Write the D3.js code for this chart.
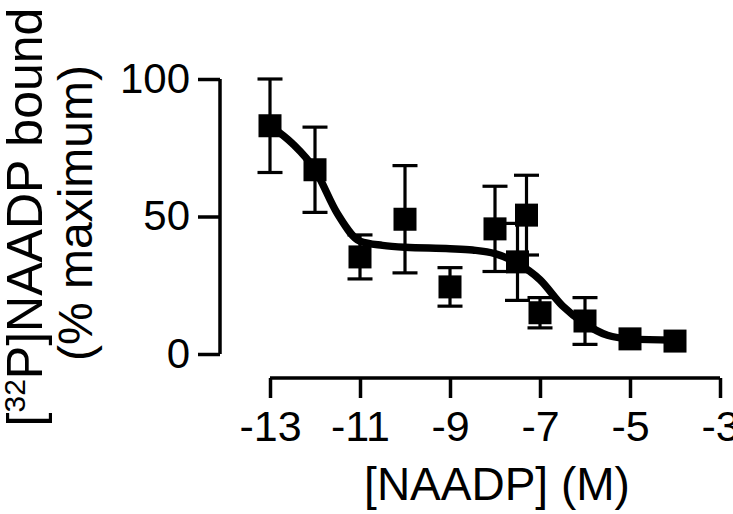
<!DOCTYPE html>
<html>
<head>
<meta charset="utf-8">
<script src="https://cdn.jsdelivr.net/npm/d3@7"></script>
<style>
  html, body { margin: 0; padding: 0; background: #fff; }
  svg { display: block; }
  text { font-family: "Liberation Sans", Arial, Helvetica, sans-serif; fill: #000; }
</style>
</head>
<body>
<svg id="chart" width="733" height="514"></svg>
<script>
// ---- data ----
const logConc   = [-13, -12, -11, -10, -9, -8, -7.5, -7.3, -7, -6, -5, -4];
const meanBound = [83, 67, 35.3, 49, 24.4, 45.5, 33.5, 50.5, 15, 12, 5.5, 4.7];
const semBound  = [17, 15.5, 8, 19.5, 7, 15.5, 14, 14.5, 5.5, 8.5, 0, 0];

const fitX = [-13, -12.5, -12, -11.5, -11, -10.5, -10, -9, -8.5, -8, -7.5, -7, -6.5, -6, -5.5, -5, -4];
const fitY = [83, 76.5, 67, 51, 41, 39.5, 38.8, 38.3, 37.8, 36.5, 33, 27, 17.5, 11, 6.8, 5.5, 5];

const xTicks = [-13, -11, -9, -7, -5, -3];
const yTicks = [0, 50, 100];

const xTitle = "[NAADP] (M)";
const yTitleLine2 = "(% maximum)";

// ---- layout ----
const svg = d3.select("#chart");
const x = d3.scaleLinear().domain([-13, -3]).range([270, 720]);
const y = d3.scaleLinear().domain([0, 100]).range([354, 79]);
const xAxisY = 378;
const yAxisX = 220;

// axes
const xAxis = d3.axisBottom(x).tickValues(xTicks).tickSize(20).tickSizeOuter(0).tickPadding(12)
  .tickFormat(d => String(d));
const gx = svg.append("g").attr("transform", `translate(0,${xAxisY})`).call(xAxis);
gx.select(".domain").attr("stroke", "#000").attr("stroke-width", 3.5).attr("d", `M${x(-13)},0H${x(-3)}`);
gx.selectAll(".tick line").attr("stroke", "#000").attr("stroke-width", 3.5);
gx.selectAll(".tick text").attr("font-size", 43).attr("font-family", "Liberation Sans, Arial, sans-serif").attr("fill", "#000");

const yAxis = d3.axisLeft(y).tickValues(yTicks).tickSize(22).tickSizeOuter(0).tickPadding(8)
  .tickFormat(d => String(d));
const gy = svg.append("g").attr("transform", `translate(${yAxisX},0)`).call(yAxis);
gy.select(".domain").attr("stroke", "#000").attr("stroke-width", 3.5).attr("d", `M0,${y(0)}V${y(100)}`);
gy.selectAll(".tick line").attr("stroke", "#000").attr("stroke-width", 3.5);
gy.selectAll(".tick text").attr("font-size", 42).attr("font-family", "Liberation Sans, Arial, sans-serif").attr("fill", "#000");

// titles
svg.append("text").attr("x", 497).attr("y", 500).attr("text-anchor", "middle")
  .attr("font-size", 46).text(xTitle);

const yt1 = svg.append("g").attr("transform", "translate(0,217) rotate(-90)");
const l1 = yt1.append("text").attr("x", 0).attr("y", 42).attr("text-anchor", "middle").attr("font-size", 50);
l1.append("tspan").text("[");
l1.append("tspan").attr("font-size", 30).attr("dy", -17).text("32");
l1.append("tspan").attr("dy", 17).text("P]NAADP bound");
const yt2 = svg.append("g").attr("transform", "translate(0,213) rotate(-90)");
yt2.append("text").attr("x", 0).attr("y", 92).attr("text-anchor", "middle").attr("font-size", 48).text(yTitleLine2);

// fitted curve
const pts = fitX.map((v, i) => [v, fitY[i]]);
svg.append("path").datum(pts)
  .attr("fill", "none").attr("stroke", "#000").attr("stroke-width", 7.5)
  .attr("stroke-linecap", "round").attr("stroke-linejoin", "round")
  .attr("d", d3.line().x(d => x(d[0])).y(d => y(d[1])).curve(d3.curveMonotoneX));

// error bars
const data = logConc.map((v, i) => ({ x: v, m: meanBound[i], s: semBound[i] }));
const eb = svg.append("g").attr("stroke", "#000").attr("stroke-width", 3.2);
const capW = 12.5;
data.filter(d => d.s > 0).forEach(d => {
  eb.append("line").attr("x1", x(d.x)).attr("x2", x(d.x)).attr("y1", y(d.m - d.s)).attr("y2", y(d.m + d.s));
  eb.append("line").attr("x1", x(d.x) - capW).attr("x2", x(d.x) + capW).attr("y1", y(d.m + d.s)).attr("y2", y(d.m + d.s));
  eb.append("line").attr("x1", x(d.x) - capW).attr("x2", x(d.x) + capW).attr("y1", y(d.m - d.s)).attr("y2", y(d.m - d.s));
});

// markers
const sz = 23;
svg.append("g").selectAll("rect").data(data).join("rect")
  .attr("x", d => x(d.x) - sz / 2).attr("y", d => y(d.m) - sz / 2)
  .attr("width", sz).attr("height", sz).attr("fill", "#000");
</script>
</body>
</html>
